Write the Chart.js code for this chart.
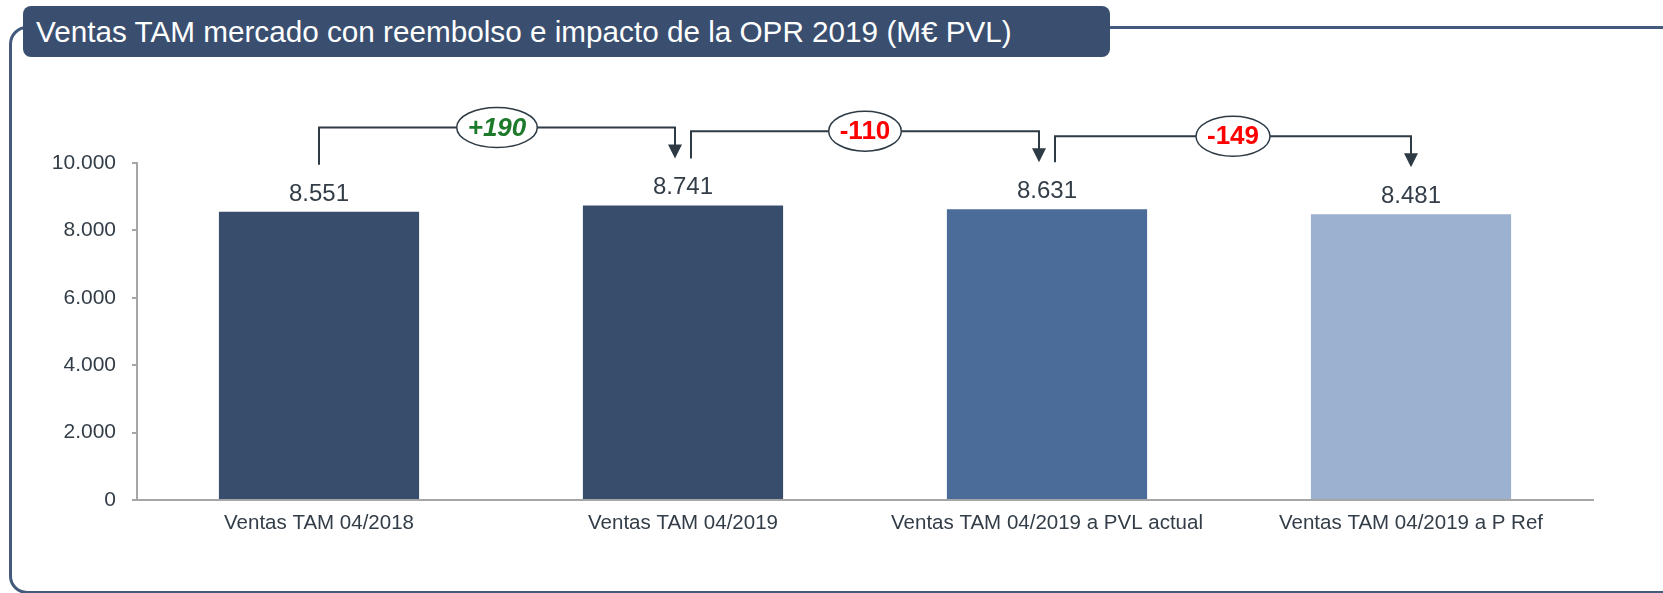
<!DOCTYPE html>
<html>
<head>
<meta charset="utf-8">
<script src="https://cdn.jsdelivr.net/npm/chart.js@4"></script>
<style>
  html, body { margin: 0; padding: 0; background: #fff; overflow: hidden; }
  #wrap { position: relative; width: 1663px; height: 593px; overflow: hidden; }
  #frame {
    position: absolute; left: 9px; top: 26px; width: 1690px; height: 562px;
    border: 3px solid #435a7d; border-radius: 18px;
  }
  #chart { position: absolute; left: 0; top: 0; }
  #title {
    position: absolute; left: 23px; top: 6px; width: 1087px; height: 51px;
    background: #3a4f70; border-radius: 8px; color: #fff;
    font: 29.7px "Liberation Sans", Arial, sans-serif; line-height: 51px;
    padding-left: 13px; box-sizing: border-box; white-space: nowrap;
  }
</style>
</head>
<body>
<div id="wrap">
  <div id="frame"></div>
  <canvas id="chart" width="1663" height="593"></canvas>
  <div id="title">Ventas TAM mercado con reembolso e impacto de la OPR 2019 (M€ PVL)</div>
</div>
<script>
// datos
const categories = ["Ventas TAM 04/2018", "Ventas TAM 04/2019", "Ventas TAM 04/2019 a PVL actual", "Ventas TAM 04/2019 a P Ref"];
const values = [8551, 8741, 8631, 8481];
const deltas = ["+190", "-110", "-149"];
const yMax = 10000;
const yStep = 2000;

const barColors = ["#384c6c", "#384c6c", "#4b6b99", "#9cb0cf"];
const textColor = "#333d47";
const axisColor = "#a6a6a6";
const fontFamily = '"Liberation Sans", Arial, sans-serif';

// 8551 -> "8.551"
const fmt = v => String(v).replace(/\B(?=(\d{3})+(?!\d))/g, ".");

// etiquetas de valor + flechas de variación
const annotations = {
    id: "annotations",
    afterDatasetsDraw(chart) {
        const { ctx, scales: { x, y } } = chart;
        ctx.save();

        ctx.font = "24px " + fontFamily;
        ctx.fillStyle = textColor;
        ctx.textAlign = "center";
        ctx.textBaseline = "alphabetic";
        values.forEach((v, i) => {
            ctx.fillText(fmt(v), x.getPixelForValue(i), y.getPixelForValue(v) - 11);
        });

        deltas.forEach((d, i) => {
            const last = i === deltas.length - 1;
            const x0 = x.getPixelForValue(i) + (i === 0 ? 0 : 8);
            const x1 = x.getPixelForValue(i + 1) - (last ? 0 : 8);
            const y0 = y.getPixelForValue(values[i]) - 47;
            const yEnd = y.getPixelForValue(values[i + 1]);
            const yTop = yEnd - 78;
            const yTip = yEnd - 47;

            ctx.strokeStyle = "#2e3b45";
            ctx.lineWidth = 2;
            ctx.beginPath();
            ctx.moveTo(x0, y0);
            ctx.lineTo(x0, yTop);
            ctx.lineTo(x1, yTop);
            ctx.lineTo(x1, yTip - 12);
            ctx.stroke();

            ctx.fillStyle = "#2e3b45";
            ctx.beginPath();
            ctx.moveTo(x1 - 7, yTip - 14);
            ctx.lineTo(x1 + 7, yTip - 14);
            ctx.lineTo(x1, yTip);
            ctx.closePath();
            ctx.fill();

            const up = d.startsWith("+");
            ctx.font = (up ? "italic bold " : "bold ") + "26px " + fontFamily;
            const w = ctx.measureText(d).width;
            const cx = (x0 + x1) / 2;
            ctx.beginPath();
            ctx.ellipse(cx, yTop, w / 2 + 11, 20, 0, 0, Math.PI * 2);
            ctx.fillStyle = "#fff";
            ctx.fill();
            ctx.lineWidth = 1.5;
            ctx.strokeStyle = "#2e3b45";
            ctx.stroke();

            ctx.fillStyle = up ? "#1d7a2b" : "#ff0000";
            ctx.textBaseline = "middle";
            ctx.fillText(d, cx, yTop + 1);
            ctx.textBaseline = "alphabetic";
        });

        ctx.restore();
    }
};

new Chart(document.getElementById("chart"), {
    type: "bar",
    data: {
        labels: categories,
        datasets: [{
            data: values,
            backgroundColor: barColors,
            barPercentage: 0.55,
            categoryPercentage: 1.0
        }]
    },
    plugins: [annotations],
    options: {
        responsive: false,
        animation: false,
        layout: { padding: { left: 0, right: 70, top: 163, bottom: 0 } },
        plugins: {
            legend: { display: false },
            tooltip: { enabled: false }
        },
        scales: {
            x: {
                grid: { display: false },
                border: { color: axisColor, width: 2 },
                ticks: { color: textColor, font: { size: 20.5, family: fontFamily }, padding: 3, maxRotation: 0 },
                afterFit(s) { s.height = 93; }
            },
            y: {
                min: 0,
                max: yMax,
                ticks: {
                    stepSize: yStep,
                    color: textColor,
                    font: { size: 21, family: fontFamily },
                    padding: 16,
                    callback: v => fmt(v)
                },
                grid: { drawOnChartArea: false, drawTicks: true, tickLength: 5, color: axisColor, lineWidth: 2 },
                border: { color: axisColor, width: 2 },
                afterFit(s) { s.width = 137; }
            }
        }
    }
});
</script>
</body>
</html>
